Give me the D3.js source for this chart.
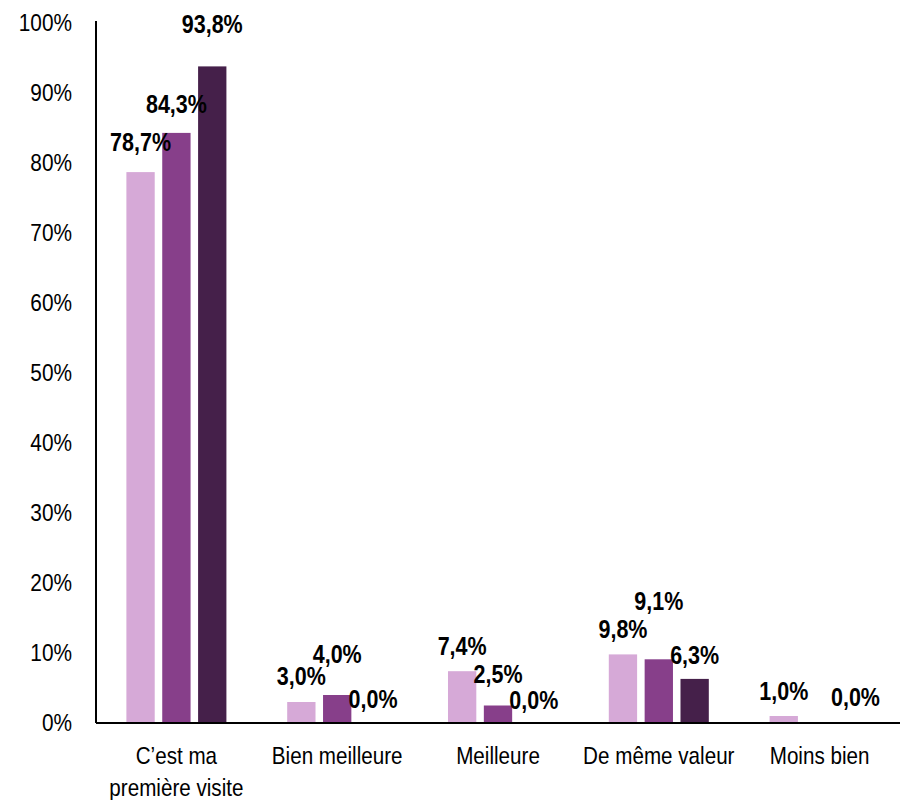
<!DOCTYPE html>
<html><head><meta charset="utf-8">
<script src="https://cdn.jsdelivr.net/npm/d3@7"></script>
<style>
html,body{margin:0;padding:0;background:#fff;}
svg{display:block;}
text{font-family:"Liberation Sans Narrow","Arial Narrow","Liberation Sans",Arial,sans-serif;fill:#000;}
</style></head>
<body>
<svg id="chart" width="905" height="800"></svg>
<script>
const categories = [["C\u2019est ma","premi\u00e8re visite"],["Bien meilleure"],["Meilleure"],["De m\u00eame valeur"],["Moins bien"]];
const seriesNames = ["S1","S2","S3"];
const series1 = [78.7, 3.0, 7.4, 9.8, 1.0];
const series2 = [84.3, 4.0, 2.5, 9.1, null];
const series3 = [93.8, 0.0, 0.0, 6.3, 0.0];
const yTicks = [0,10,20,30,40,50,60,70,80,90,100];

// layout: extra lift of individual value labels (px), as placed in the original
const labelLift = [[5,4,17],[1,16,-1],[0,7,-2],[0,33,-1],[0,0,1]];
const colors = ["#D6A9D7","#873F8A","#45204A"];
const SX = 0.86; // horizontal condensing to mimic a narrow font

const svg = d3.select("#chart");
const mLeft = 96, mRight = 900, mTop = 23, mBottom = 723;
const y = d3.scaleLinear().domain([0,100]).range([mBottom, mTop]);
const x0 = d3.scaleBand().domain(d3.range(categories.length)).range([mLeft,mRight]).paddingInner(0.378).paddingOuter(0.189);
const x1 = d3.scaleBand().domain(d3.range(3)).range([0, x0.bandwidth()]).paddingInner(0.21).paddingOuter(0);

const seriesVals = [series1, series2, series3];
const fmt = v => v.toFixed(1).replace(".", ",") + "%";

function narrowText(parent, x, yy, str, size, weight, anchor) {
  return parent.append("text")
    .attr("transform", `translate(${x},${yy}) scale(${SX},1)`)
    .attr("text-anchor", anchor)
    .attr("font-size", size)
    .attr("font-weight", weight)
    .text(str);
}

// bars
seriesVals.forEach((vals, s) => {
  svg.append("g").selectAll("rect").data(vals.map((v,i)=>({v,i})).filter(d => d.v !== null && d.v > 0)).join("rect")
    .attr("x", d => x0(d.i) + x1(s))
    .attr("width", x1.bandwidth())
    .attr("y", d => y(d.v))
    .attr("height", d => y(0) - y(d.v))
    .attr("fill", colors[s]);
});

// y axis
const yAxis = d3.axisLeft(y).tickValues(yTicks).tickFormat(d => d + "%").tickSize(0).tickPadding(0);
const gy = svg.append("g").attr("transform", `translate(${mLeft},0)`).call(yAxis);
gy.select(".domain").remove();
gy.selectAll("text")
  .attr("x", 0).attr("dy", "0.3em")
  .attr("transform", `translate(-24,0) scale(0.85,1)`)
  .attr("font-size", 24.5)
  .style("font-family", '"Liberation Sans Narrow","Arial Narrow","Liberation Sans",Arial,sans-serif')
  .attr("fill","#000");
svg.append("line").attr("x1", mLeft).attr("x2", mLeft).attr("y1", y(100) - 2).attr("y2", mBottom).attr("stroke","#000").attr("stroke-width",2);

// x axis
svg.append("line").attr("x1", mLeft).attr("x2", mRight).attr("y1", mBottom).attr("y2", mBottom).attr("stroke","#000").attr("stroke-width",2);
categories.forEach((lines, i) => {
  const cx = x0(i) + x0.bandwidth()/2;
  lines.forEach((ln, k) => narrowText(svg, cx, 764 + k*32, ln, 24, "normal", "middle"));
});

// value labels
seriesVals.forEach((vals, s) => {
  vals.forEach((v, i) => {
    if (v === null) return;
    narrowText(svg, x0(i) + x1(s) + x1.bandwidth()/2, y(v) - 25 - labelLift[i][s], fmt(v), 25, "bold", "middle")
      .attr("dy", "0.36em");
  });
});
</script>
</body></html>
